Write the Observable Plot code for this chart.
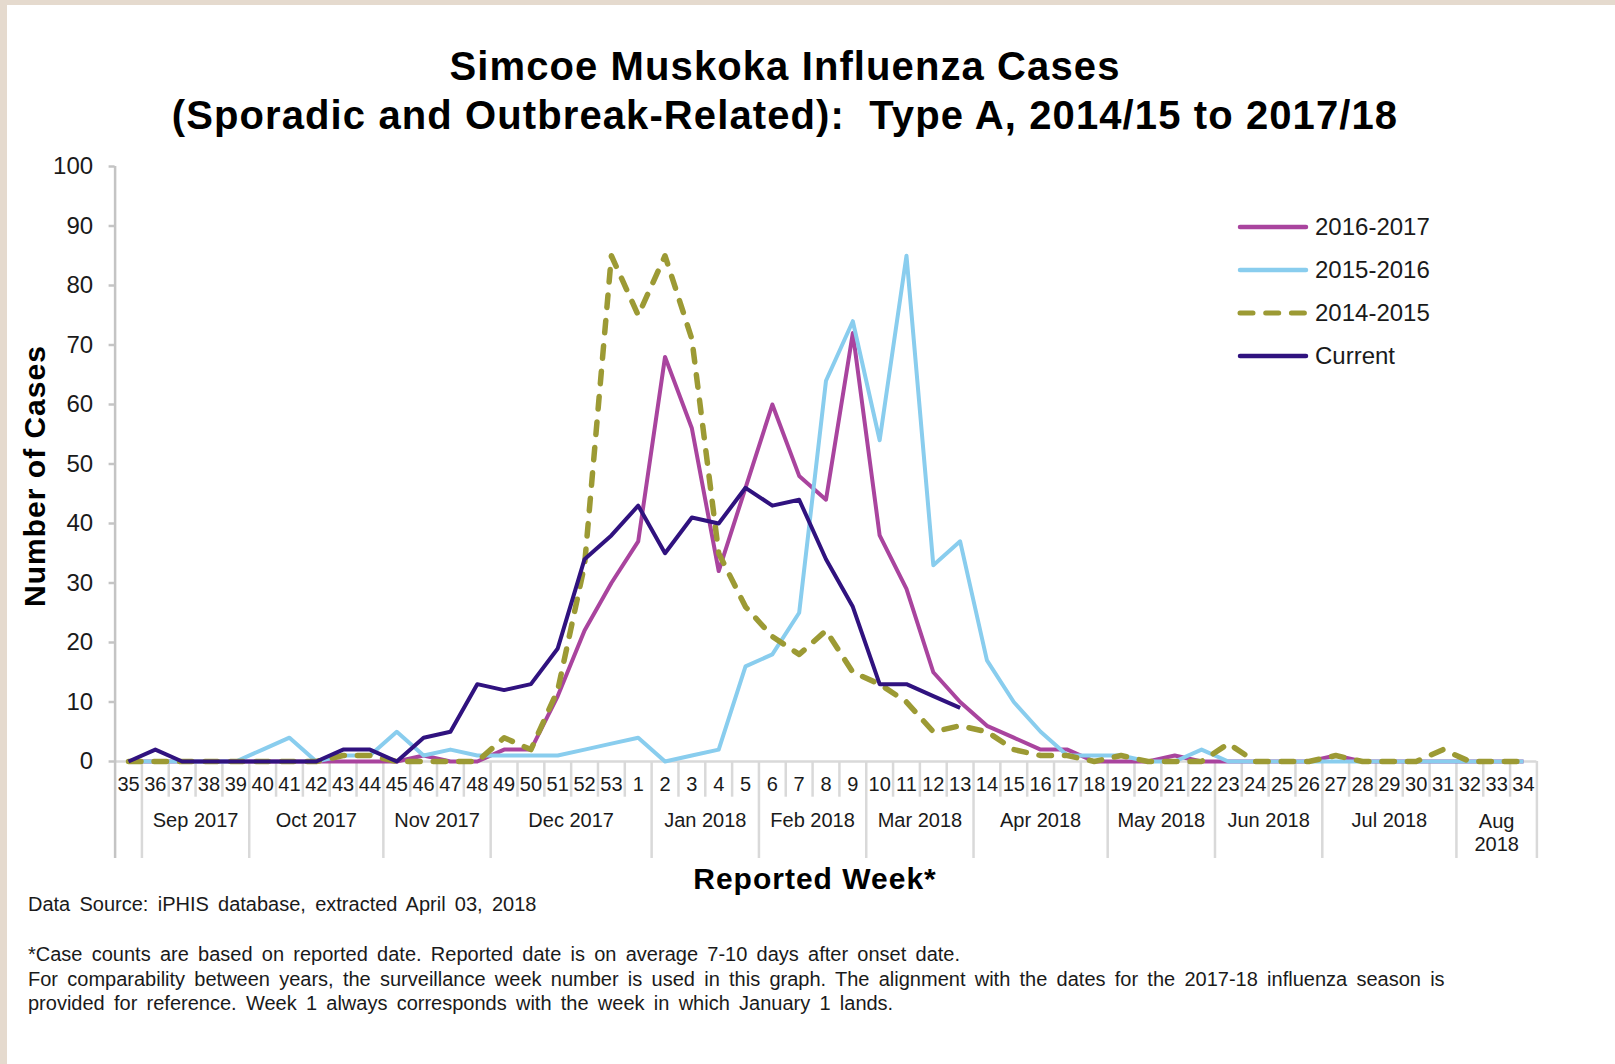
<!DOCTYPE html>
<html><head><meta charset="utf-8">
<script src="https://cdn.jsdelivr.net/npm/d3@7"></script>
<script src="https://cdn.jsdelivr.net/npm/@observablehq/plot@0.6"></script>
<style>
html,body{margin:0;padding:0;background:#fff;}
body{width:1615px;height:1064px;position:relative;overflow:hidden;font-family:"Liberation Sans",Arial,sans-serif;color:#111;}
#bt{position:absolute;left:0;top:0;width:1615px;height:5px;background:#e5dace;}
#bl{position:absolute;left:0;top:0;width:7px;height:1064px;background:#e5dace;}
#title{position:absolute;left:0;width:1570px;top:42px;text-align:center;font-weight:bold;font-size:40px;line-height:49px;letter-spacing:1.1px;color:#000;white-space:pre;}
#chart{position:absolute;left:0;top:0;}
#xtitle{position:absolute;left:615px;width:400px;top:864px;line-height:30px;text-align:center;font-weight:bold;font-size:30px;letter-spacing:1px;color:#000;}
#ytitle{position:absolute;left:35px;top:476px;width:400px;line-height:30px;margin-left:-200px;margin-top:-15px;text-align:center;font-weight:bold;font-size:30px;letter-spacing:1px;color:#000;transform:rotate(-90deg);}
.fn{position:absolute;left:28px;font-size:20px;line-height:24px;color:#1a1a1a;white-space:nowrap;word-spacing:3.7px;}
#legend{position:absolute;left:0;top:0;}
</style></head>
<body>
<div id="bt"></div><div id="bl"></div>
<div id="title"></div>
<div id="chart"></div>
<div id="xtitle"></div>
<div id="ytitle"></div>
<div id="fn"></div>
<script>
// ---------- data ----------
const titleLines = ["Simcoe Muskoka Influenza Cases", "(Sporadic and Outbreak-Related):  Type A, 2014/15 to 2017/18"];
const xTitle = "Reported Week*";
const yTitle = "Number of Cases";
const weeks = [35,36,37,38,39,40,41,42,43,44,45,46,47,48,49,50,51,52,53,1,2,3,4,5,6,7,8,9,10,11,12,13,14,15,16,17,18,19,20,21,22,23,24,25,26,27,28,29,30,31,32,33,34];
const yTicks = [0,10,20,30,40,50,60,70,80,90,100];
const monthLabels = ["Sep 2017","Oct 2017","Nov 2017","Dec 2017","Jan 2018","Feb 2018","Mar 2018","Apr 2018","May 2018","Jun 2018","Jul 2018","Aug\n2018"];
const monthFirstWeek = [36,40,45,49,2,6,10,14,19,23,27,32];
const monthLastWeek  = [39,44,48,1,5,9,13,18,22,26,31,34];
const seriesNames = ["2016-2017","2015-2016","2014-2015","Current"];
const s2016_2017 = [0,0,0,0,0,0,0,0,0,0,0,1,0,0,2,2,11,22,30,37,68,56,32,46,60,48,44,72,38,29,15,10,6,4,2,2,0,0,0,1,0,0,0,0,0,1,0,0,0,0,0,0,0];
const s2015_2016 = [0,0,0,0,0,2,4,0,1,1,5,1,2,1,1,1,1,2,3,4,0,1,2,16,18,25,64,74,54,85,33,37,17,10,5,1,1,1,0,0,2,0,0,0,0,0,0,0,0,0,0,0,0];
const s2014_2015 = [0,0,0,0,0,0,0,0,1,1,0,0,0,0,4,2,12,33,85,75,85,71,35,26,21,18,22,15,13,10,5,6,5,2,1,1,0,1,0,0,0,3,0,0,0,1,0,0,0,2,0,0,0];
const sCurrent   = [0,2,0,0,0,0,0,0,2,2,0,4,5,13,12,13,19,34,38,43,35,41,40,46,43,44,34,26,13,13,11,9,null,null,null,null,null,null,null,null,null,null,null,null,null,null,null,null,null,null,null,null,null];
const footnotes = [
  "Data Source: iPHIS database, extracted April 03, 2018",
  "*Case counts are based on reported date. Reported date is on average 7-10 days after onset date.",
  "For comparability between years, the surveillance week number is used in this graph. The alignment with the dates for the 2017-18 influenza season is",
  "provided for reference. Week 1 always corresponds with the week in which January 1 lands."
];

// ---------- styles ----------
const FONT = '"Liberation Sans", Arial, sans-serif';
const styles = [
  {color:"#a9449e", width:4, dash:null},
  {color:"#89cdee", width:4, dash:null},
  {color:"#9c9a34", width:5.5, dash:"12.5,13"},
  {color:"#30127f", width:4, dash:null}
];
const seriesValues = [s2016_2017, s2015_2016, s2014_2015, sCurrent];

document.getElementById("title").textContent = titleLines.join("\n");
document.getElementById("xtitle").textContent = xTitle;
document.getElementById("ytitle").textContent = yTitle;
const fnTops = [892, 942, 966.5, 991];
const fnDiv = document.getElementById("fn");
footnotes.forEach((t,k)=>{const d=document.createElement("div");d.className="fn";d.style.top=fnTops[k]+"px";d.textContent=t;fnDiv.appendChild(d);});

// ---------- chart ----------
const n = weeks.length;
const idx = w => weeks.indexOf(w);
const groupBounds = monthFirstWeek.map(w => idx(w) - 0.5).concat([n - 0.5]);
const allBounds = d3.range(n - 1).map(i => i + 0.5);
const shortBounds = allBounds.filter(b => !groupBounds.includes(b));
const months = monthLabels.map((label,k) => ({label, x:(idx(monthFirstWeek[k]) + idx(monthLastWeek[k])) / 2}));
const monthsOne = months.filter(m => !m.label.includes("\n"));
const monthsTwo = months.filter(m => m.label.includes("\n"));

const Y_SHORT = -6.0;   // short week separators below the axis
const Y_LONG = -16.3;   // long month separators below the axis

const lineMarks = seriesValues.map((vals,k) => Plot.line(vals.map((v,i)=>({i, v})), {
  x:"i", y:"v", stroke: styles[k].color, strokeWidth: styles[k].width,
  strokeDasharray: styles[k].dash ?? undefined, strokeLinecap: styles[k].dash ? "round" : "butt",
  strokeLinejoin:"round", defined: d => d.v != null
}));

const chart = Plot.plot({
  width: 1615, height: 900,
  marginLeft: 114.6, marginRight: 1615 - 1536.4, marginTop: 166, marginBottom: 139,
  x: {type:"linear", domain:[-0.5, n - 0.5], axis:null},
  y: {domain:[0,100], axis:null},
  style: {fontFamily: FONT, background:"transparent", overflow:"visible"},
  marks: [
    Plot.ruleX(shortBounds, {y1:0, y2:Y_SHORT, stroke:"#d9d9d9", strokeWidth:2.5}),
    Plot.ruleX(groupBounds, {y1:0, y2:Y_LONG, stroke:"#d9d9d9", strokeWidth:2.5}),
    Plot.ruleY([0], {x1:-0.5, x2:n - 0.5, stroke:"#d9d9d9", strokeWidth:2.5}),
    Plot.ruleX([-0.5], {y1:100, y2:Y_LONG, stroke:"#c4c4c4", strokeWidth:2.5}),
    Plot.axisY({ticks: yTicks, tickSize: 6, tickPadding: 16, fontSize: 24, stroke:"#c4c4c4", strokeWidth:2.5, fill:"#1a1a1a", label:null, tickFormat: d => String(d)}),
    Plot.text(weeks, {x:(d,i)=>i, y:0, dy:23, text:d=>String(d), fontSize:20, fill:"#1a1a1a"}),
    Plot.text(monthsOne, {x:"x", y:0, dy:59, text:"label", fontSize:20, fill:"#1a1a1a"}),
    Plot.text(monthsTwo, {x:"x", y:0, dy:70.5, text:"label", fontSize:20, lineHeight:1.15, fill:"#1a1a1a"}),
    ...lineMarks
  ]
});
document.getElementById("chart").appendChild(chart);

// ---------- legend ----------
const leg = d3.select("body").append("svg").attr("id","legend").attr("width",1615).attr("height",420);
seriesNames.forEach((name,k)=>{
  const cy = 227 + 43*k;
  leg.append("line").attr("x1",1240).attr("x2",1306).attr("y1",cy).attr("y2",cy)
    .attr("stroke",styles[k].color).attr("stroke-width",k===2?5:4.5)
    .attr("stroke-linecap","round")
    .attr("stroke-dasharray", k===2 ? "13,12.7" : null);
  leg.append("text").attr("x",1315).attr("y",cy).attr("dy","0.35em")
    .attr("font-family",FONT).attr("font-size",24).attr("fill","#1a1a1a").text(name);
});
</script>
</body></html>
